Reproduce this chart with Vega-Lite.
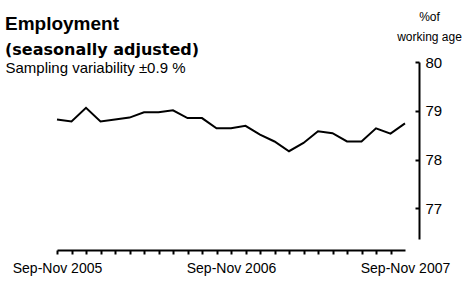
{
  "$schema": "https://vega.github.io/schema/vega-lite/v6.json",
  "width": 348,
  "height": 177,
  "autosize": "none",
  "padding": {"left": 57, "top": 62, "right": 60, "bottom": 48},
  "background": "white",
  "config": {"view": {"stroke": null}, "font": "Liberation Sans"},
  "title": {
    "text": "Employment",
    "subtitle": "(seasonally adjusted)",
    "anchor": "start",
    "dx": 0,
    "dy": 62,
    "font": "Liberation Sans",
    "fontSize": 19,
    "fontWeight": "bold",
    "color": "black",
    "subtitleFont": "DejaVu Sans",
    "subtitleFontSize": 16,
    "subtitleFontWeight": "bold",
    "subtitleColor": "black",
    "subtitlePadding": 8,
    "offset": 14
  },
  "data": {
    "values": [
      {"period": "Sep-Nov 2005", "value": 78.82},
      {"period": "Oct-Dec 2005", "value": 78.78},
      {"period": "Nov-Jan 2006", "value": 79.06},
      {"period": "Dec-Feb 2006", "value": 78.78},
      {"period": "Jan-Mar 2006", "value": 78.82},
      {"period": "Feb-Apr 2006", "value": 78.86},
      {"period": "Mar-May 2006", "value": 78.97},
      {"period": "Apr-Jun 2006", "value": 78.97},
      {"period": "May-Jul 2006", "value": 79.01},
      {"period": "Jun-Aug 2006", "value": 78.85},
      {"period": "Jul-Sep 2006", "value": 78.85},
      {"period": "Aug-Oct 2006", "value": 78.64},
      {"period": "Sep-Nov 2006", "value": 78.64},
      {"period": "Oct-Dec 2006", "value": 78.69},
      {"period": "Nov-Jan 2007", "value": 78.51},
      {"period": "Dec-Feb 2007", "value": 78.37},
      {"period": "Jan-Mar 2007", "value": 78.17},
      {"period": "Feb-Apr 2007", "value": 78.34},
      {"period": "Mar-May 2007", "value": 78.58},
      {"period": "Apr-Jun 2007", "value": 78.54},
      {"period": "May-Jul 2007", "value": 78.37},
      {"period": "Jun-Aug 2007", "value": 78.37},
      {"period": "Jul-Sep 2007", "value": 78.64},
      {"period": "Aug-Oct 2007", "value": 78.53},
      {"period": "Sep-Nov 2007", "value": 78.74}
    ]
  },
  "layer": [
    {
      "mark": {"type": "line", "color": "black", "strokeWidth": 2},
      "encoding": {
        "x": {
          "field": "period",
          "type": "ordinal",
          "sort": null,
          "scale": {"type": "point", "padding": 0},
          "axis": {
            "orient": "bottom",
            "offset": 11,
            "title": null,
            "domainColor": "black",
            "domainWidth": 2,
            "tickColor": "black",
            "tickWidth": 2,
            "tickSize": 4,
            "tickOpacity": {"condition": {"test": "datum.value == 'Sep-Nov 2007'", "value": 0}, "value": 1},
            "labelAngle": 0,
            "labelOverlap": false,
            "labelFont": "Liberation Sans",
            "labelFontSize": 14,
            "labelColor": "black",
            "labelPadding": 7,
            "labelExpr": "indexof(['Sep-Nov 2005','Sep-Nov 2006','Sep-Nov 2007'], datum.value) >= 0 ? datum.value : ''"
          }
        },
        "y": {
          "field": "value",
          "type": "quantitative",
          "scale": {"domain": [76.37, 80], "nice": false, "zero": false},
          "axis": {
            "orient": "right",
            "offset": 14,
            "values": [77, 78, 79, 80],
            "grid": false,
            "domainColor": "black",
            "domainWidth": 2,
            "tickColor": "black",
            "tickWidth": 2,
            "tickSize": -4,
            "labelPadding": 10,
            "labelFont": "Liberation Sans",
            "labelFontSize": 15,
            "labelColor": "black",
            "title": ["%of", "working age"],
            "titleAngle": 0,
            "titleFont": "Liberation Sans",
            "titleFontSize": 12,
            "titleFontWeight": "normal",
            "titleColor": "black",
            "titleAlign": "center",
            "titleBaseline": "alphabetic",
            "titleLineHeight": 20,
            "titleX": 10,
            "titleY": -42
          }
        }
      }
    },
    {
      "mark": {"type": "line", "opacity": 0},
      "encoding": {
        "x": {
          "field": "period",
          "type": "ordinal",
          "sort": null,
          "axis": {
            "orient": "top",
            "domain": false,
            "ticks": false,
            "labels": false,
            "title": "Sampling variability ±0.9 %",
            "titleFont": "Liberation Sans",
            "titleFontSize": 15,
            "titleFontWeight": "normal",
            "titleColor": "black",
            "titleAnchor": "start",
            "titleAlign": "left",
            "titleBaseline": "alphabetic",
            "titleX": -52,
            "titleY": 10
          }
        },
        "y": {"field": "value", "type": "quantitative"}
      }
    }
  ],
  "resolve": {"axis": {"x": "independent"}}
}
